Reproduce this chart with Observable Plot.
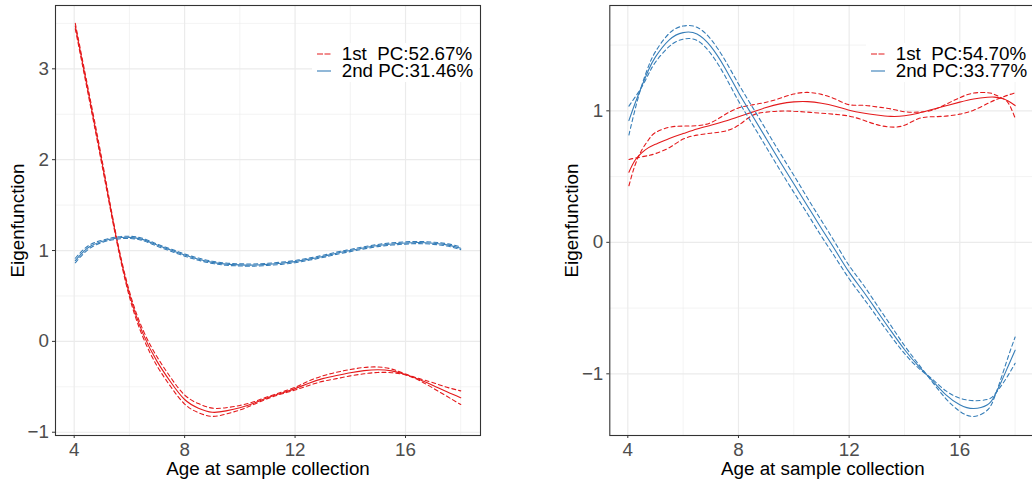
<!DOCTYPE html>
<html><head><meta charset="utf-8">
<script src="https://cdn.jsdelivr.net/npm/d3@7"></script>
<script src="https://cdn.jsdelivr.net/npm/@observablehq/plot@0.6"></script>
<style>
html,body{margin:0;padding:0;background:#fff;overflow:hidden}
#wrap{position:relative;width:1032px;height:479px;overflow:hidden;font-family:"Liberation Sans",Arial,sans-serif}
.panel{position:absolute;top:0}
.legend{position:absolute;top:43px;background:#fff;font-size:18.8px;color:#000;padding:2.6px 6px 3px 5px}
.row{display:flex;align-items:center;height:16.7px;white-space:pre}
.row svg{margin-right:10.7px;flex:none}
g[aria-label="x-axis label"], g[aria-label="y-axis label"]{fill:#000}
</style></head><body><div id="wrap"></div>
<script>
// ---------- data: left panel ----------
const ageLeft = [4.04, 4.5, 5, 5.5, 6, 6.5, 7, 7.5, 8, 8.5, 9, 9.5, 10, 10.5, 11, 11.5, 12, 12.5, 13, 13.5, 14, 14.5, 15, 15.5, 16, 16.5, 17, 17.5, 18];
const pc1Left      = [3.47, 2.76, 1.98, 1.18, 0.52, 0.08, -0.22, -0.45, -0.64, -0.735, -0.78, -0.765, -0.73, -0.68, -0.62, -0.57, -0.52, -0.46, -0.41, -0.375, -0.345, -0.322, -0.312, -0.325, -0.365, -0.42, -0.485, -0.555, -0.62];
const pc1LeftUpper = [3.50, 2.79, 2.01, 1.20, 0.55, 0.12, -0.17, -0.40, -0.59, -0.685, -0.735, -0.73, -0.705, -0.665, -0.61, -0.56, -0.505, -0.435, -0.38, -0.34, -0.31, -0.287, -0.282, -0.305, -0.36, -0.41, -0.455, -0.505, -0.545];
const pc1LeftLower = [3.44, 2.73, 1.95, 1.16, 0.49, 0.04, -0.27, -0.50, -0.69, -0.785, -0.825, -0.80, -0.755, -0.695, -0.63, -0.58, -0.535, -0.485, -0.44, -0.41, -0.38, -0.357, -0.342, -0.345, -0.37, -0.43, -0.515, -0.605, -0.695];
const pc2Left      = [0.89, 1.03, 1.10, 1.135, 1.145, 1.12, 1.06, 1.005, 0.95, 0.905, 0.87, 0.85, 0.842, 0.84, 0.848, 0.86, 0.878, 0.905, 0.935, 0.97, 1.0, 1.03, 1.055, 1.072, 1.083, 1.088, 1.08, 1.062, 1.025];
const pc2LeftUpper = [0.915, 1.05, 1.112, 1.147, 1.157, 1.132, 1.072, 1.017, 0.962, 0.917, 0.882, 0.862, 0.854, 0.852, 0.86, 0.872, 0.89, 0.917, 0.947, 0.982, 1.012, 1.042, 1.067, 1.084, 1.095, 1.1, 1.092, 1.075, 1.04];
const pc2LeftLower = [0.865, 1.01, 1.088, 1.123, 1.133, 1.108, 1.048, 0.993, 0.938, 0.893, 0.858, 0.838, 0.83, 0.828, 0.836, 0.848, 0.866, 0.893, 0.923, 0.958, 0.988, 1.018, 1.043, 1.06, 1.071, 1.076, 1.068, 1.049, 1.01];

// ---------- data: right panel ----------
const ageRight = [4.04, 4.25, 4.5, 4.75, 5, 5.5, 6, 6.5, 7, 7.5, 8, 8.5, 9, 9.5, 10, 10.5, 11, 11.5, 12, 12.5, 13, 13.5, 14, 14.5, 15, 15.5, 16, 16.5, 17, 17.25, 17.5, 17.75, 18];
const pc1Right      = [0.533, 0.62, 0.68, 0.72, 0.745, 0.79, 0.827, 0.862, 0.89, 0.92, 0.955, 0.99, 1.025, 1.053, 1.068, 1.07, 1.058, 1.035, 1.005, 0.983, 0.968, 0.958, 0.962, 0.982, 1.01, 1.038, 1.066, 1.09, 1.103, 1.104, 1.096, 1.075, 1.04];
const pc1RightBandA = [0.63, 0.64, 0.65, 0.66, 0.675, 0.72, 0.785, 0.815, 0.83, 0.845, 0.89, 0.965, 0.99, 0.998, 0.997, 0.99, 0.982, 0.973, 0.96, 0.93, 0.895, 0.877, 0.89, 0.94, 0.955, 0.96, 0.975, 1.005, 1.055, 1.08, 1.10, 1.12, 1.137];
const pc1RightBandB = [0.43, 0.58, 0.70, 0.78, 0.835, 0.875, 0.884, 0.887, 0.91, 0.97, 1.022, 1.045, 1.065, 1.095, 1.128, 1.14, 1.125, 1.09, 1.047, 1.042, 1.03, 1.015, 0.993, 0.99, 1.005, 1.05, 1.10, 1.135, 1.138, 1.125, 1.10, 1.06, 0.945];
const pc2Right      = [0.926, 1.05, 1.185, 1.31, 1.41, 1.54, 1.595, 1.585, 1.49, 1.33, 1.14, 0.965, 0.79, 0.615, 0.445, 0.275, 0.105, -0.06, -0.227, -0.37, -0.52, -0.67, -0.815, -0.94, -1.05, -1.16, -1.235, -1.264, -1.235, -1.17, -1.06, -0.94, -0.82];
const pc2RightBandA = [1.036, 1.10, 1.18, 1.28, 1.37, 1.49, 1.545, 1.535, 1.435, 1.27, 1.075, 0.90, 0.725, 0.55, 0.38, 0.215, 0.045, -0.115, -0.277, -0.42, -0.565, -0.71, -0.845, -0.955, -1.04, -1.13, -1.185, -1.204, -1.195, -1.16, -1.09, -1.01, -0.92];
const pc2RightBandB = [0.816, 1.00, 1.19, 1.34, 1.45, 1.59, 1.645, 1.635, 1.545, 1.39, 1.205, 1.03, 0.855, 0.68, 0.51, 0.335, 0.165, -0.005, -0.177, -0.32, -0.475, -0.63, -0.785, -0.925, -1.06, -1.19, -1.285, -1.324, -1.275, -1.18, -1.03, -0.87, -0.72];

// ---------- ticks & labels ----------
const xTicks = [4, 8, 12, 16];
const xMinorTicks = [6, 10, 14, 18];
const yTicksLeft = [-1, 0, 1, 2, 3];
const yMinorLeft = [-0.5, 0.5, 1.5, 2.5, 3.5];
const yTicksRight = [-1, 0, 1];
const yMinorRight = [-0.5, 0.5, 1.5];
const legendLeft = ["1st  PC:52.67%", "2nd PC:31.46%"];
const legendRight = ["1st  PC:54.70%", "2nd PC:33.77%"];
const xTitle = "Age at sample collection";
const yTitle = "Eigenfunction";

const RED = "#E41A1C", BLUE = "#377EB8";
const FONT = "'Liberation Sans', Arial, sans-serif";
const fmt = d3.format("d");

function makePanel(cfg) {
  const lineMark = (vals, color, dashed) => Plot.line(vals, {
    x: (d, i) => cfg.age[i], y: d => d, stroke: color, strokeWidth: 1.1,
    strokeDasharray: dashed ? "4,3" : null, curve: "natural"
  });
  return Plot.plot({
    width: 520, height: 479,
    marginLeft: cfg.marginLeft, marginRight: cfg.marginRight, marginTop: 5, marginBottom: 44,
    x: {domain: cfg.xDomain},
    y: {domain: cfg.yDomain},
    style: {fontFamily: FONT, background: "transparent", overflow: "visible"},
    marks: [
      Plot.gridX(xMinorTicks, {stroke: "#EBEBEB", strokeOpacity: 1, strokeWidth: 0.6}),
      Plot.gridY(cfg.yMinor, {stroke: "#EBEBEB", strokeOpacity: 1, strokeWidth: 0.6}),
      Plot.gridX(xTicks, {stroke: "#EBEBEB", strokeOpacity: 1, strokeWidth: 1.2}),
      Plot.gridY(cfg.yTicks, {stroke: "#EBEBEB", strokeOpacity: 1, strokeWidth: 1.2}),
      lineMark(cfg.pc1Upper, RED, true),
      lineMark(cfg.pc1Lower, RED, true),
      lineMark(cfg.pc1, RED, false),
      lineMark(cfg.pc2Upper, BLUE, true),
      lineMark(cfg.pc2Lower, BLUE, true),
      lineMark(cfg.pc2, BLUE, false),
      Plot.frame({stroke: "#333333", strokeWidth: 1.1}),
      Plot.axisX(xTicks, {tickSize: 3, tickPadding: 4, stroke: "#333333", fill: "#4D4D4D", fontSize: 18.8,
        tickFormat: fmt, label: xTitle, labelAnchor: "center", labelOffset: 39.5, labelArrow: false}),
      Plot.axisY(cfg.yTicks, {tickSize: 3, tickPadding: 3.5, stroke: "#333333", fill: "#4D4D4D", fontSize: 18.8,
        tickFormat: fmt, label: yTitle, labelAnchor: "center", labelOffset: cfg.yLabelOffset, labelArrow: false})
    ]
  });
}

function makeLegend(labels, left) {
  const div = document.createElement("div");
  div.className = "legend";
  div.style.left = left + "px";
  [RED, BLUE].forEach((c, i) => {
    const row = document.createElement("div");
    row.className = "row";
    const dash = i === 0 ? ' stroke-dasharray="6,1.5"' : '';
    row.innerHTML = `<svg width="14" height="4"><line x1="0" y1="2" x2="14" y2="2" stroke="${c}" stroke-width="1.1"${dash}/></svg>`;
    const span = document.createElement("span");
    span.textContent = labels[i];
    row.appendChild(span);
    div.appendChild(row);
  });
  return div;
}

const wrap = document.getElementById("wrap");

const left = makePanel({
  age: ageLeft, pc1: pc1Left, pc1Upper: pc1LeftUpper, pc1Lower: pc1LeftLower,
  pc2: pc2Left, pc2Upper: pc2LeftUpper, pc2Lower: pc2LeftLower,
  xDomain: [3.323, 18.716], yDomain: [-1.036, 3.697],
  yTicks: yTicksLeft, yMinor: yMinorLeft, marginLeft: 55, marginRight: 40, yLabelOffset: 44.5
});
left.classList.add("panel"); left.style.left = "0px";
wrap.appendChild(left);

const right = makePanel({
  age: ageRight, pc1: pc1Right, pc1Upper: pc1RightBandA, pc1Lower: pc1RightBandB,
  pc2: pc2Right, pc2Upper: pc2RightBandA, pc2Lower: pc2RightBandB,
  xDomain: [3.349, 18.747], yDomain: [-1.469, 1.801],
  yTicks: yTicksRight, yMinor: yMinorRight, marginLeft: 89.3, marginRight: 4.7, yLabelOffset: 45
});
right.classList.add("panel"); right.style.left = "520px";
wrap.appendChild(right);

wrap.appendChild(makeLegend(legendLeft, 312));
wrap.appendChild(makeLegend(legendRight, 866));
</script></body></html>
